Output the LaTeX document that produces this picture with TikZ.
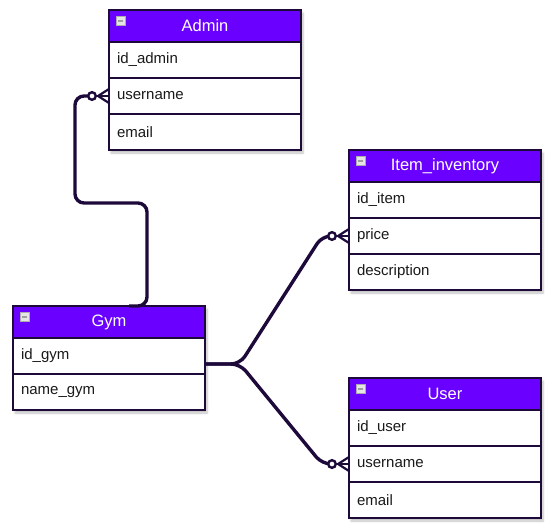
\documentclass[tikz,border=0pt]{standalone}
\usepackage{fontspec}
\setmainfont{Liberation Sans}
\usetikzlibrary{shadows.blur,calc}
\definecolor{hd}{HTML}{6A00FF}
\definecolor{bd}{HTML}{1E0A3A}
\definecolor{txt}{HTML}{1A1A1A}
\tikzset{
  tbl/.style={draw=bd, line width=2.8pt, minimum width=192pt, anchor=north west, outer sep=0pt},
  hdr/.style={tbl, fill=hd, text=white, minimum height=32pt, inner sep=0pt, font=\fontsize{16.5}{18}\selectfont},
  rowc/.style={tbl, fill=white, text=txt, minimum height=36pt, text width=176pt, inner xsep=8pt, inner ysep=0pt, align=left, font=\fontsize{15}{17}\selectfont},
  conn/.style={draw=bd, line width=3.4pt, rounded corners=9pt},
  shad/.style={blur shadow={shadow xshift=2pt, shadow yshift=-3pt, shadow blur steps=6, shadow opacity=25}},
  zmany/.pic={
    \draw[draw=bd, line width=2.8pt] (-13,0) -- (0,0);
    \draw[draw=bd, line width=2.2pt] (-11,0) -- (0,-7);
    \draw[draw=bd, line width=2.2pt] (-11,0) -- (0,7);
    \draw[draw=bd, line width=2.4pt, fill=white] (-17,0) circle (3.8);
  },
  colicon/.pic={
    \draw[draw=gray!65, fill=gray!20, line width=0.8pt] (0,0) rectangle (9,9);
    \draw[draw=gray!75, line width=2pt] (2,4.5) -- (7,4.5);
  }
}
\begin{document}
\begin{tikzpicture}[x=1pt,y=-1pt]
\useasboundingbox (0,0) rectangle (557,528);
% shadows
\path[shad, fill=white] (109,10) rectangle (301,150);
\path[shad, fill=white] (349,150) rectangle (541,290);
\path[shad, fill=white] (13,306) rectangle (205,410);
\path[shad, fill=white] (349,378) rectangle (541,518);
% Admin
\node[hdr] (admin) at (109,10) {Admin};
\node[rowc] (admin-1) at (109,42) {id\_admin};
\node[rowc] (admin-2) at (109,78) {username};
\node[rowc] (admin-3) at (109,114) {email};
% Item_inventory
\node[hdr] (item) at (349,150) {Item\_inventory};
\node[rowc] (item-1) at (349,182) {id\_item};
\node[rowc] (item-2) at (349,218) {price};
\node[rowc] (item-3) at (349,254) {description};
% Gym
\node[hdr] (gym) at (13,306) {Gym};
\node[rowc] (gym-1) at (13,338) {id\_gym};
\node[rowc] (gym-2) at (13,374) {name\_gym};
% User
\node[hdr] (user) at (349,378) {User};
\node[rowc] (user-1) at (349,410) {id\_user};
\node[rowc] (user-2) at (349,446) {username};
\node[rowc] (user-3) at (349,482) {email};
% collapse icons
\pic at ($(admin.north west)+(7,6)$) {colicon};
\pic at ($(item.north west)+(7,6)$) {colicon};
\pic at ($(gym.north west)+(7,6)$) {colicon};
\pic at ($(user.north west)+(7,6)$) {colicon};
% connectors
\coordinate (gymout) at ($(gym-1.east)+(0,8)$);
\draw[conn] ($(gym.north)+(20,0)$) -- (147,306) -- (147,203) -- (75,203) -- (75,96) -- ($(admin-2.west)+(-17,0)$);
\draw[conn] (gymout) -- (240,364) -- (322,236) -- ($(item-2.west)+(-17,0)$);
\draw[conn] (gymout) -- (240,364) -- (322,464) -- ($(user-2.west)+(-17,0)$);
\pic at (admin-2.west) {zmany};
\pic at (item-2.west) {zmany};
\pic at (user-2.west) {zmany};
\end{tikzpicture}
\end{document}
